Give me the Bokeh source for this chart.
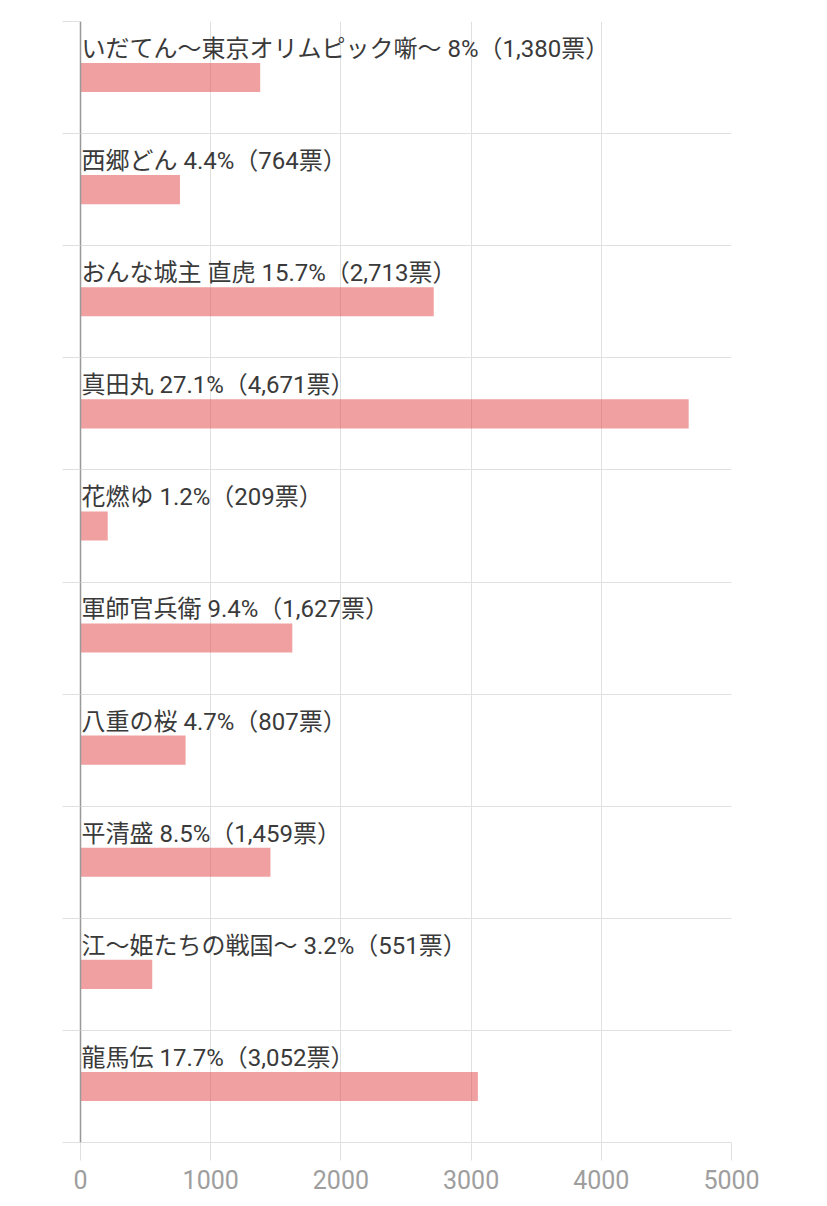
from bokeh.plotting import figure
from bokeh.models import Range1d, FixedTicker, ColumnDataSource
from bokeh.core.properties import value
from bokeh.embed import file_html
from bokeh.resources import INLINE

titles = ["いだてん〜東京オリムピック噺〜", "西郷どん", "おんな城主 直虎", "真田丸", "花燃ゆ",
          "軍師官兵衛", "八重の桜", "平清盛", "江〜姫たちの戦国〜", "龍馬伝"]
percents = ["8", "4.4", "15.7", "27.1", "1.2", "9.4", "4.7", "8.5", "3.2", "17.7"]
votes = [1380, 764, 2713, 4671, 209, 1627, 807, 1459, 551, 3052]
x_ticks = [0, 1000, 2000, 3000, 4000, 5000]

n = len(titles)
centers = [n - 0.5 - i for i in range(n)]
labels = [f"{t} {p}%（{v:,}票）" for t, p, v in zip(titles, percents, votes)]
bar_h = 0.26

src = ColumnDataSource(dict(
    y=centers, right=votes, label=labels,
    ty=[c + bar_h / 2 for c in centers], tx=[0] * n,
))

p = figure(width=819, height=1198, output_backend="svg", toolbar_location=None,
           x_range=Range1d(0, 5000), y_range=Range1d(0, n),
           min_border_left=80, min_border_right=88, min_border_top=21, min_border_bottom=56)
p.outline_line_color = None

p.hbar(y="y", left=0, right="right", height=bar_h, source=src,
       fill_color="#E14141", fill_alpha=0.5, line_color=None)
p.text(x="tx", y="ty", text="label", source=src, x_offset=1, y_offset=-14,
       text_font=value("Roboto, 'Noto Sans CJK JP'"), text_font_size="24px",
       text_color="#3a3a3a", text_baseline="alphabetic", text_align="left")

grid_c = "#e0e0e0"
p.xgrid.ticker = FixedTicker(ticks=x_ticks)
p.xgrid.grid_line_color = grid_c
p.ygrid.ticker = FixedTicker(ticks=list(range(n + 1)))
p.ygrid.grid_line_color = grid_c

xa = p.xaxis[0]
xa.ticker = FixedTicker(ticks=x_ticks)
xa.axis_line_color = grid_c
xa.major_tick_line_color = grid_c
xa.major_tick_out = 18
xa.major_tick_in = 0
xa.minor_tick_line_color = None
xa.major_label_text_color = "#9e9e9e"
xa.major_label_text_font = "Roboto"
xa.major_label_text_font_size = "25px"
xa.major_label_standoff = 9

ya = p.yaxis[0]
ya.ticker = FixedTicker(ticks=list(range(n + 1)))
ya.axis_line_color = "#999999"
ya.axis_line_width = 1.5
ya.major_tick_line_color = grid_c
ya.major_tick_out = 18
ya.major_tick_in = 0
ya.minor_tick_line_color = None
ya.major_label_overrides = {i: "" for i in range(n + 1)}

open("out.html", "w").write(file_html(p, INLINE))
